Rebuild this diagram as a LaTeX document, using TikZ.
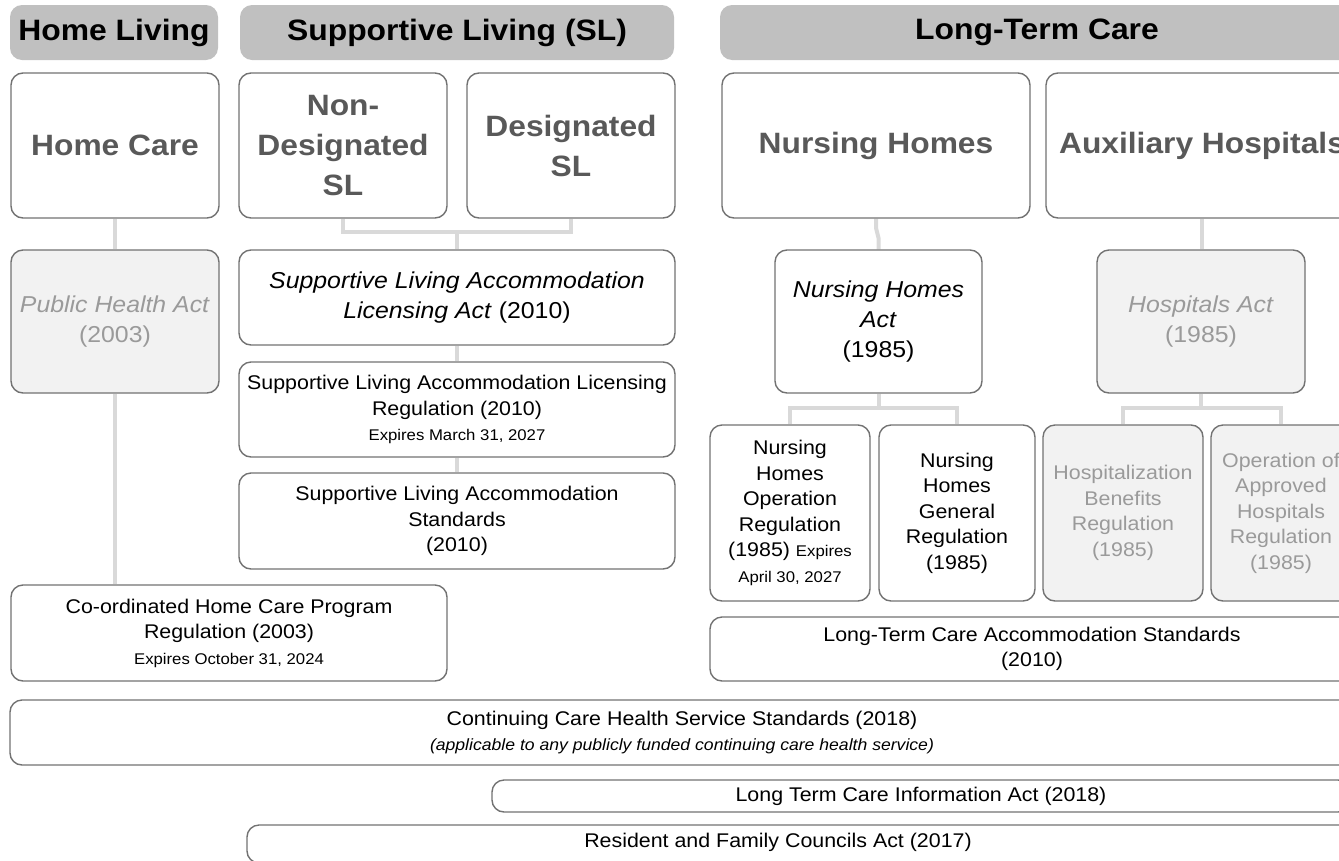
\documentclass[tikz,border=0pt]{standalone}
\usepackage{fontspec}
\setmainfont{Liberation Sans}[FakeStretch=1.08]
\usetikzlibrary{backgrounds}
\definecolor{hdrgray}{HTML}{C0C0C0}
\definecolor{bord}{HTML}{727272}
\definecolor{cattext}{HTML}{595959}
\definecolor{gfill}{HTML}{F2F2F2}
\definecolor{gtext}{HTML}{9A9A9A}
\definecolor{conncol}{HTML}{D9D9D9}
\newcommand\fhdr{\fontsize{29.5}{36}\selectfont\bfseries}
\newcommand\fcat{\fontsize{29.4}{40}\selectfont\bfseries}
\newcommand\fact{\fontsize{23}{30}\selectfont}
\newcommand\fbody{\fontsize{19.8}{25.5}\selectfont}
\newcommand\fsml{\fontsize{15.5}{25.5}\selectfont}
\newcommand\fsub{\fontsize{16.3}{26}\selectfont}
\begin{document}
\begin{tikzpicture}[x=1pt,y=-1pt,
  hdr/.style={rectangle, rounded corners=12pt, fill=hdrgray, draw=none, font=\fhdr, text=black, inner sep=0pt},
  cat/.style={rectangle, rounded corners=12pt, draw=bord, line width=1.4pt, fill=white, font=\fcat, text=cattext, align=center, inner sep=0pt},
  box/.style={rectangle, rounded corners=12pt, draw=bord, line width=1.4pt, fill=white, font=\fbody, text=black, align=center, inner sep=0pt},
  actbox/.style={box, font=\fact},
  gbox/.style={box, fill=gfill, text=gtext},
  gact/.style={gbox, font=\fact},
  lbl/.style={inner sep=0pt, font=\fbody, text=black},
  conn/.style={draw=conncol, line width=4pt}]
\useasboundingbox (0,0) rectangle (1339,860);
\clip (0,0) rectangle (1339,860);
% headers
\node[hdr, minimum width=208, minimum height=55] (h1) at (114,32.5) {Home Living};
\node[hdr, minimum width=434, minimum height=55] (h2) at (457,32.5) {Supportive Living (SL)};
\node[hdr, minimum width=634, minimum height=55] (h3) at (1037,32.5) {Long-Term Care};
% categories
\node[cat, minimum width=208, minimum height=145] (homecare) at (115,145.5) {Home Care};
\node[cat, minimum width=208, minimum height=145] (nondes) at (343,145.5) {Non-\\Designated\\SL};
\node[cat, minimum width=208, minimum height=145] (des) at (571,145.5) {Designated\\SL};
\node[cat, minimum width=308, minimum height=145] (nh) at (876,145.5) {Nursing Homes};
\node[cat, minimum width=312, minimum height=145] (aux) at (1202,145.5) {Auxiliary Hospitals};
% acts and regulations
\node[gact, minimum width=208, minimum height=143] (pha) at (115,321.5) {\textit{Public Health Act}\\(2003)};
\node[actbox, minimum width=436, minimum height=95] (slact) at (457,297.5) {\textit{Supportive Living Accommodation}\\\textit{Licensing Act} (2010)};
\node[box, minimum width=436, minimum height=95] (slreg) at (457,409.5) {Supportive Living Accommodation Licensing\\Regulation (2010)\\{\fsml Expires March 31, 2027}};
\node[box, minimum width=436, minimum height=96] (slstd) at (457,521) {Supportive Living Accommodation\\Standards\\(2010)};
\node[box, minimum width=436, minimum height=96] (chc) at (229,633) {Co-ordinated Home Care Program\\Regulation (2003)\\{\fsml Expires October 31, 2024}};
\node[actbox, minimum width=207, minimum height=143] (nhact) at (878.5,321.5) {\textit{Nursing Homes}\\\textit{Act}\\(1985)};
\node[gact, minimum width=208, minimum height=143] (hact) at (1201,321.5) {\textit{Hospitals Act}\\(1985)};
\node[box, minimum width=160, minimum height=176] (nhop) at (790,513) {Nursing\\Homes\\Operation\\Regulation\\(1985) {\fsml Expires}\\{\fsml April 30, 2027}};
\node[box, minimum width=156, minimum height=176] (nhgen) at (957,513) {Nursing\\Homes\\General\\Regulation\\(1985)};
\node[gbox, minimum width=160, minimum height=176] (hben) at (1123,513) {Hospitalization\\Benefits\\Regulation\\(1985)};
\node[gbox, minimum width=140, minimum height=176] (opah) at (1281,513) {Operation of\\Approved\\Hospitals\\Regulation\\(1985)};
\node[box, minimum width=644, minimum height=64] (ltcas) at (1032,649) {Long-Term Care Accommodation Standards\\(2010)};
\node[box, minimum width=1344, minimum height=65] (ccs) at (682,732.5) {Continuing Care Health Service Standards (2018)\\{\fsub\itshape (applicable to any publicly funded continuing care health service)}};
\node[box, minimum width=858, minimum height=32] (ltci) at (921,796) {};
\node[lbl] (ltcit) at (921,796) {Long Term Care Information Act (2018)};
\node[box, minimum width=1107, minimum height=38] (rfc) at (800.5,844) {};
\node[lbl] (rfct) at (778,842) {Resident and Family Councils Act (2017)};
% connectors
\begin{scope}[on background layer]
\draw[conn] (homecare.south) -- (pha.north);
\draw[conn] (pha.south) -- (pha.south |- chc.north);
\coordinate (slbar) at (457,232);
\draw[conn] (nondes.south) -- (nondes.south |- slbar) -- (des.south |- slbar) -- (des.south);
\draw[conn] (slbar) -- (slact.north);
\draw[conn] (slact.south) -- (slreg.north);
\draw[conn] (slreg.south) -- (slstd.north);
\coordinate (nhk1) at (876,228);
\coordinate (nhk2) at (878.5,238);
\draw[conn] (nh.south) -- (nhk1) -- (nhk2) -- (nhact.north);
\coordinate (nhbar) at (878.5,408);
\draw[conn] (nhact.south) -- (nhbar);
\draw[conn] (nhop.north) -- (nhop.north |- nhbar) -- (nhgen.north |- nhbar) -- (nhgen.north);
\coordinate (hbar) at (1201,408);
\draw[conn] (aux.south) -- (aux.south |- hact.north);
\draw[conn] (hact.south) -- (hbar);
\draw[conn] (hben.north) -- (hben.north |- hbar) -- (opah.north |- hbar) -- (opah.north);
\end{scope}
\end{tikzpicture}
\end{document}
